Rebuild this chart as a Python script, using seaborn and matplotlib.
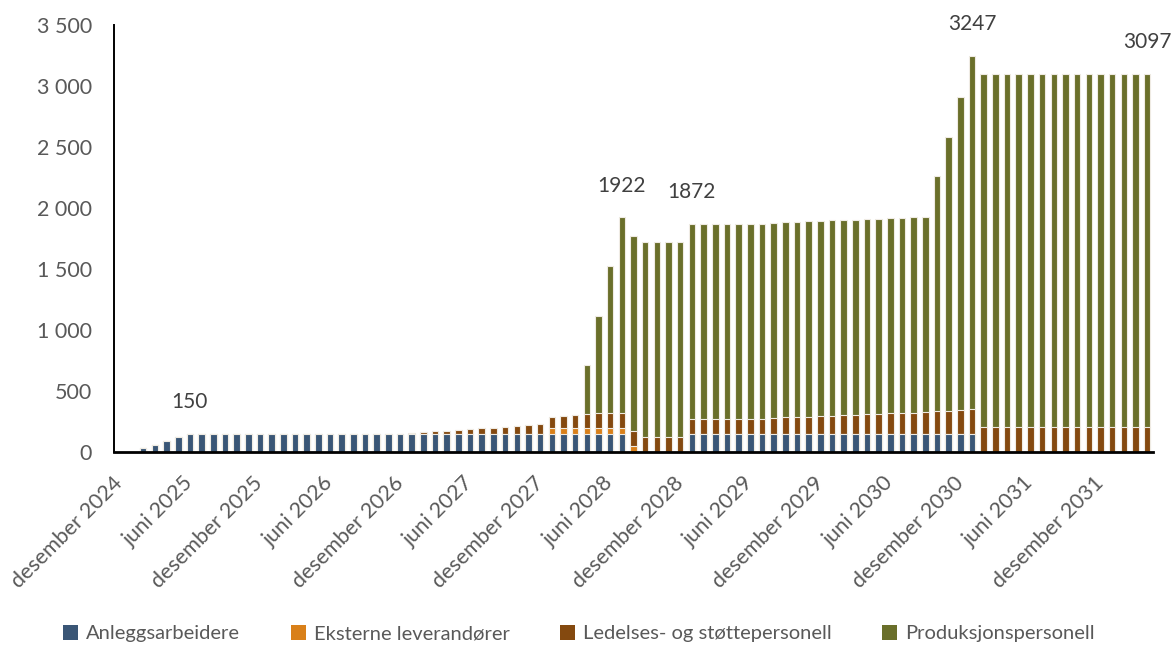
"""Bemanning per måned, stablet per personellkategori."""

import matplotlib

matplotlib.use("Agg")
import matplotlib.pyplot as plt
import matplotlib.ticker as mticker
import pandas as pd
import seaborn as sns
from matplotlib.patches import Patch

MONTH_NAMES = ["januar", "februar", "mars", "april", "mai", "juni", "juli",
               "august", "september", "oktober", "november", "desember"]

# desember 2024 - april 2032, one bar per month
periods = pd.period_range("2024-12", "2032-04", freq="M")
months = [f"{MONTH_NAMES[p.month - 1]} {p.year}" for p in periods]

anlegg = [
    0, 0, 30, 60, 90, 120, 150, 150, 150, 150, 150, 150,
    150, 150, 150, 150, 150, 150, 150, 150, 150, 150, 150, 150,
    150, 150, 150, 150, 150, 150, 150, 150, 150, 150, 150, 150,
    150, 150, 150, 150, 150, 150, 150, 150, 0, 0, 0, 0,
    0, 150, 150, 150, 150, 150, 150, 150, 150, 150, 150, 150,
    150, 150, 150, 150, 150, 150, 150, 150, 150, 150, 150, 150,
    150, 150, 0, 0, 0, 0, 0, 0, 0, 0, 0, 0,
    0, 0, 0, 0, 0,
]
eksterne = [
    0, 0, 0, 0, 0, 0, 0, 0, 0, 0, 0, 0,
    0, 0, 0, 0, 0, 0, 0, 0, 0, 0, 0, 0,
    0, 0, 0, 0, 0, 0, 0, 0, 0, 0, 0, 0,
    0, 50, 50, 50, 50, 50, 50, 50, 45, 0, 0, 0,
    0, 0, 0, 0, 0, 0, 0, 0, 0, 0, 0, 0,
    0, 0, 0, 0, 0, 0, 0, 0, 0, 0, 0, 0,
    0, 0, 0, 0, 0, 0, 0, 0, 0, 0, 0, 0,
    0, 0, 0, 0, 0,
]
ledelse = [
    0, 0, 0, 0, 0, 0, 0, 0, 0, 0, 0, 0,
    0, 0, 0, 0, 0, 0, 0, 0, 0, 0, 0, 0,
    0, 6, 12, 19, 25, 31, 38, 44, 50, 57, 63, 72,
    80, 88, 96, 104, 110, 116, 122, 122, 127, 122, 122, 122,
    122, 122, 122, 122, 122, 122, 122, 122, 128, 133, 137, 140,
    145, 148, 151, 155, 158, 163, 167, 170, 173, 178, 186, 187,
    194, 205, 205, 205, 205, 205, 205, 205, 205, 205, 205, 205,
    205, 205, 205, 205, 205,
]
produksjon = [
    0, 0, 0, 0, 0, 0, 0, 0, 0, 0, 0, 0,
    0, 0, 0, 0, 0, 0, 0, 0, 0, 0, 0, 0,
    0, 0, 0, 0, 0, 0, 0, 0, 0, 0, 0, 0,
    0, 0, 0, 0, 400, 800, 1200, 1600, 1600, 1600, 1600, 1600,
    1600, 1600, 1600, 1600, 1600, 1600, 1600, 1600, 1600, 1600, 1600, 1600,
    1600, 1600, 1600, 1600, 1600, 1600, 1600, 1600, 1600, 1600, 1923, 2246,
    2569, 2892, 2892, 2892, 2892, 2892, 2892, 2892, 2892, 2892, 2892, 2892,
    2892, 2892, 2892, 2892, 2892,
]

series_names = ["Anleggsarbeidere", "Eksterne leverandører",
                "Ledelses- og støttepersonell", "Produksjonspersonell"]
palette = {
    "Anleggsarbeidere": "#3A5676",
    "Eksterne leverandører": "#D98019",
    "Ledelses- og støttepersonell": "#84490F",
    "Produksjonspersonell": "#6A6F2A",
}

# bars that carry a total label
label_months = ["juni 2025", "juli 2028", "januar 2029", "januar 2031", "april 2032"]

TEXT_COLOR = "#595959"
EDGE_COLOR = "#EFEBE3"

df = pd.DataFrame({"måned": months})
for name, values in zip(series_names, [anlegg, eksterne, ledelse, produksjon]):
    df[name] = values
cum = df[series_names].cumsum(axis=1)
cum["måned"] = df["måned"]
totals = df[series_names].sum(axis=1)

sns.set_style("white")
plt.rcParams["font.family"] = ["Lato", "DejaVu Sans"]

fig = plt.figure(figsize=(11.72, 6.48), dpi=100)
ax = fig.add_axes([0.0973, 0.3025, 0.8865, 0.659])

# stacked bars: draw cumulative layers from the top one down
for name in reversed(series_names):
    sns.barplot(
        data=cum,
        x="måned",
        y=name,
        order=months,
        color=palette[name],
        saturation=1,
        width=0.56,
        edgecolor=EDGE_COLOR,
        linewidth=0.8,
        errorbar=None,
        ax=ax,
    )

for m in label_months:
    i = months.index(m)
    ax.annotate(
        f"{totals[i]:.0f}",
        xy=(i, totals[i]),
        xytext=(0, 23),
        textcoords="offset points",
        ha="center",
        va="center",
        fontsize=15,
        color="#404040",
    )

ax.set_ylim(0, 3500)
ax.set_yticks(range(0, 3501, 500))
ax.yaxis.set_major_formatter(
    mticker.FuncFormatter(lambda v, _: f"{int(v):,}".replace(",", " "))
)
tick_pos = list(range(0, len(months), 6))
ax.set_xticks(tick_pos)
ax.set_xticklabels([months[i] for i in tick_pos], rotation=45, ha="right",
                   va="center", rotation_mode="anchor")
ax.set_xlim(-0.5, len(months) - 0.5)
ax.set_xlabel("")
ax.set_ylabel("")

ax.tick_params(axis="y", direction="in", length=6, width=1.2, color="black",
               labelsize=15.5, labelcolor=TEXT_COLOR, pad=16)
ax.tick_params(axis="x", length=0, labelsize=15.5, labelcolor=TEXT_COLOR, pad=20)
for side in ["top", "right"]:
    ax.spines[side].set_visible(False)
ax.spines["left"].set_color("black")
ax.spines["left"].set_linewidth(1.4)
ax.spines["bottom"].set_color("black")
ax.spines["bottom"].set_linewidth(2)

handles = [Patch(facecolor=palette[n], edgecolor="none") for n in series_names]
fig.legend(
    handles,
    series_names,
    loc="center",
    bbox_to_anchor=(0.494, 0.022),
    ncol=4,
    frameon=False,
    fontsize=14.5,
    labelcolor=TEXT_COLOR,
    handlelength=0.75,
    handleheight=0.75,
    handletextpad=0.4,
    columnspacing=2.5,
)

fig.savefig("out.png", dpi=100)
plt.close(fig)
